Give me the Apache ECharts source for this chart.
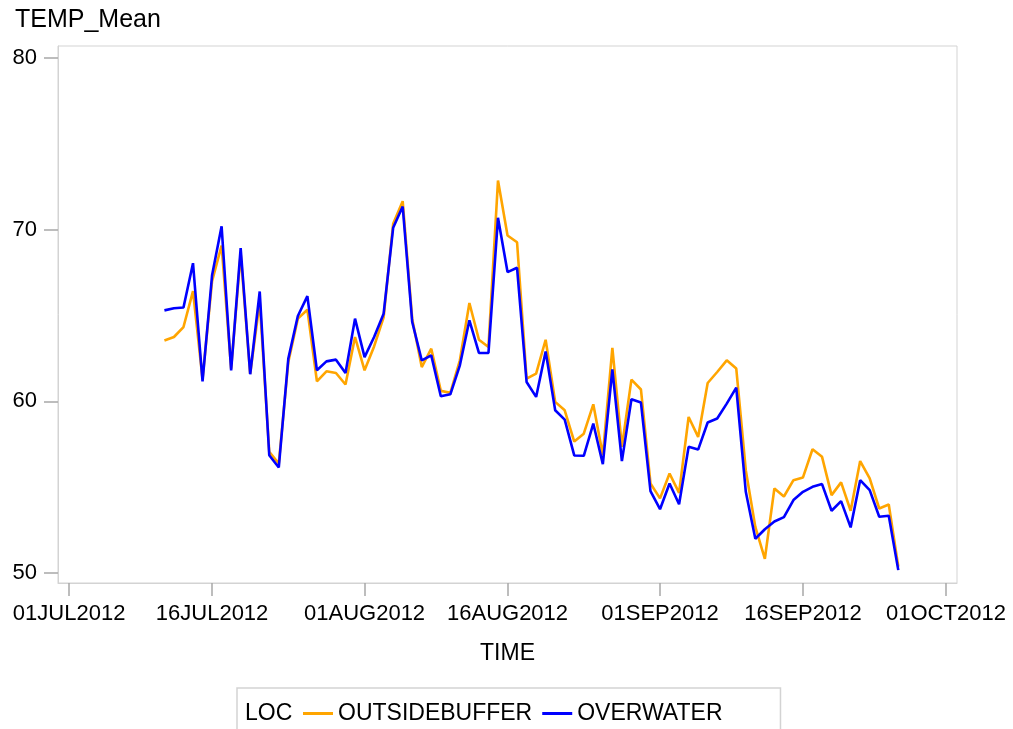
<!DOCTYPE html>
<html>
<head>
<meta charset="utf-8">
<script src="https://cdn.jsdelivr.net/npm/echarts@6/dist/echarts.min.js"></script>
<style>html,body{margin:0;padding:0;background:#fff}#c{width:1013px;height:729px}</style>
</head>
<body>
<div id="c"></div>
<script>
var dates = ['2012-07-11','2012-07-12','2012-07-13','2012-07-14','2012-07-15','2012-07-16','2012-07-17','2012-07-18','2012-07-19','2012-07-20',
'2012-07-21','2012-07-22','2012-07-23','2012-07-24','2012-07-25','2012-07-26','2012-07-27','2012-07-28','2012-07-29','2012-07-30',
'2012-07-31','2012-08-01','2012-08-02','2012-08-03','2012-08-04','2012-08-05','2012-08-06','2012-08-07','2012-08-08','2012-08-09',
'2012-08-10','2012-08-11','2012-08-12','2012-08-13','2012-08-14','2012-08-15','2012-08-16','2012-08-17','2012-08-18','2012-08-19',
'2012-08-20','2012-08-21','2012-08-22','2012-08-23','2012-08-24','2012-08-25','2012-08-26','2012-08-27','2012-08-28','2012-08-29',
'2012-08-30','2012-08-31','2012-09-01','2012-09-02','2012-09-03','2012-09-04','2012-09-05','2012-09-06','2012-09-07','2012-09-08',
'2012-09-09','2012-09-10','2012-09-11','2012-09-12','2012-09-13','2012-09-14','2012-09-15','2012-09-16','2012-09-17','2012-09-18',
'2012-09-19','2012-09-20','2012-09-21','2012-09-22','2012-09-23','2012-09-24','2012-09-25','2012-09-26'];

var outsideBuffer = [63.55,63.75,64.33,66.42,61.3,67.0,69.08,61.9,68.6,61.6,
65.8,57.06,56.38,62.3,64.82,65.34,61.17,61.75,61.65,60.98,
63.75,61.81,63.2,64.9,70.34,71.66,64.8,62.0,63.07,60.61,
60.5,62.39,65.73,63.59,63.17,72.86,69.66,69.27,61.32,61.62,
63.59,59.97,59.48,57.66,58.12,59.83,56.86,63.11,57.35,61.27,
60.69,55.22,54.35,55.8,54.67,59.09,57.93,61.07,61.71,62.39,
61.91,55.99,52.69,50.83,54.93,54.46,55.41,55.57,57.21,56.77,
54.54,55.28,53.63,56.52,55.51,53.76,53.99,50.37];

var overWater = [65.3,65.42,65.47,68.05,61.17,67.34,70.2,61.81,68.93,61.58,
66.4,56.86,56.15,62.49,64.97,66.13,61.81,62.33,62.43,61.65,
64.82,62.58,63.75,65.11,70.11,71.35,64.62,62.39,62.68,60.3,
60.41,62.1,64.72,62.82,62.82,70.69,67.53,67.78,61.13,60.26,
62.91,59.48,58.94,56.85,56.83,58.71,56.34,61.87,56.52,60.12,
59.93,54.77,53.72,55.22,54.01,57.35,57.19,58.77,59.0,59.87,
60.8,54.73,52.0,52.55,53.0,53.26,54.25,54.73,55.02,55.18,
53.63,54.19,52.66,55.41,54.83,53.28,53.34,50.17];

var xTickDates = ['2012-07-01','2012-07-16','2012-08-01','2012-08-16','2012-09-01','2012-09-16','2012-10-01'];
var xTickLabels = ['01JUL2012','16JUL2012','01AUG2012','16AUG2012','01SEP2012','16SEP2012','01OCT2012'];
var yTicks = [50, 60, 70, 80];

function ts(s){ var p = s.split('-'); return Date.UTC(+p[0], +p[1]-1, +p[2]); }
var DAY = 86400000;
var xTickVals = xTickDates.map(ts);
var xMin = ts('2012-07-01') - 1.165 * DAY;
var xMax = ts('2012-07-01') + 93.16 * DAY;

function pairs(vals){ return dates.map(function(d, i){ return [ts(d), vals[i]]; }); }

var FONT = '"Liberation Sans", Arial, sans-serif';
var chart = echarts.init(document.getElementById('c'));
chart.setOption({
  animation: false,
  backgroundColor: '#fff',
  textStyle: { fontFamily: FONT, color: '#000' },
  title: {
    text: 'TEMP_Mean', left: 10, top: 3,
    textStyle: { fontFamily: FONT, fontSize: 25, fontWeight: 'normal', color: '#000' }
  },
  grid: {
    left: 58, right: 56, top: 46, bottom: 146,
    show: true, borderColor: '#D3D3D3', borderWidth: 1,
    containLabel: false, outerBoundsMode: 'none'
  },
  xAxis: {
    type: 'value', min: xMin, max: xMax, scale: true,
    name: 'TIME', nameLocation: 'middle', nameGap: 59,
    nameTextStyle: { fontFamily: FONT, fontSize: 23, color: '#000' },
    axisLine: { show: true, lineStyle: { color: '#D3D3D3', width: 1 } },
    axisTick: { show: true, length: 13, customValues: xTickVals, lineStyle: { color: '#A8A8A8', width: 1.5 } },
    axisLabel: {
      show: true, margin: 20, fontFamily: FONT, fontSize: 22, color: '#000',
      customValues: xTickVals, showMinLabel: true, showMaxLabel: true,
      formatter: function(v){ var i = xTickVals.indexOf(v); return i >= 0 ? xTickLabels[i] : ''; }
    },
    splitLine: { show: false }
  },
  yAxis: {
    type: 'value', min: 49.42, max: 80.7,
    axisLine: { show: true, lineStyle: { color: '#D3D3D3', width: 1 } },
    axisTick: { show: true, length: 14, customValues: yTicks, lineStyle: { color: '#A8A8A8', width: 1.5 } },
    axisLabel: { show: true, margin: 21, fontFamily: FONT, fontSize: 22, color: '#000', customValues: yTicks },
    splitLine: { show: false }
  },
  legend: {
    left: 237, top: 688,
    padding: [14, 58, 30, 66],
    borderColor: '#D3D3D3', borderWidth: 1.5,
    itemWidth: 30, itemHeight: 3, itemGap: 10,
    icon: 'rect',
    textStyle: { fontFamily: FONT, fontSize: 23, color: '#000' },
    data: ['OUTSIDEBUFFER', 'OVERWATER']
  },
  graphic: [{
    type: 'text', left: 245, top: 702,
    style: { text: 'LOC', fontFamily: FONT, fontSize: 23, fill: '#000' }
  }],
  series: [
    { name: 'OUTSIDEBUFFER', type: 'line', data: pairs(outsideBuffer), showSymbol: false, symbol: 'none',
      lineStyle: { color: '#FFA500', width: 2.6 }, itemStyle: { color: '#FFA500' } },
    { name: 'OVERWATER', type: 'line', data: pairs(overWater), showSymbol: false, symbol: 'none',
      lineStyle: { color: '#0000FF', width: 2.6 }, itemStyle: { color: '#0000FF' } }
  ]
});
</script>
</body>
</html>
